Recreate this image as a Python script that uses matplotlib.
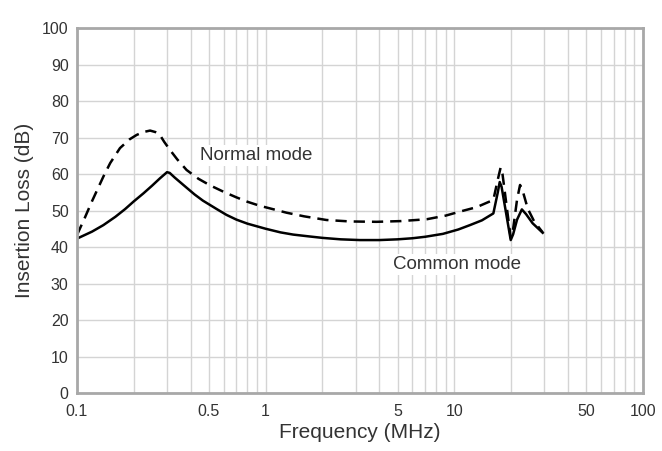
import matplotlib
matplotlib.use("Agg")
import matplotlib.pyplot as plt
from matplotlib.ticker import FixedLocator, FixedFormatter, LogLocator, NullFormatter

# ================================
# Data
# ================================

common_freq = [0.1, 0.12, 0.138, 0.16, 0.18, 0.2, 0.225, 0.25, 0.275, 0.3,
               0.31, 0.33, 0.38, 0.42, 0.465, 0.55, 0.62, 0.7, 0.8, 1.0,
               1.2, 1.4, 1.7, 2.0, 2.5, 3.16, 4.0, 5.0, 6.0, 7.0, 8.7, 10.5,
               12.1, 14.0, 16.1, 17.0, 17.4, 17.8, 19.9, 20.5, 21.5, 22.8,
               24.0, 26.0, 29.4]
common_loss = [42.3, 44.2, 46.0, 48.3, 50.4, 52.5, 54.7, 56.8, 58.8, 60.5,
               60.3, 59.0, 56.3, 54.4, 52.7, 50.4, 48.8, 47.5, 46.4, 45.0,
               44.0, 43.4, 42.9, 42.5, 42.1, 41.9, 41.9, 42.1, 42.4, 42.8, 43.6, 44.8,
               46.0, 47.3, 49.2, 55.0, 57.8, 56.5, 41.9, 43.5, 47.5, 50.3,
               49.0, 46.5, 43.9]

normal_freq = [0.1, 0.11, 0.12, 0.138, 0.15, 0.169, 0.19, 0.207, 0.225, 0.244,
               0.26, 0.275, 0.29, 0.311, 0.34, 0.381, 0.44, 0.507, 0.6, 0.7,
               0.8, 0.93, 1.05, 1.29, 1.6, 2.1, 2.8, 3.87, 5.2, 7.13, 9.0,
               10.7, 13.1, 16.1, 17.0, 17.6, 18.0, 19.9, 20.5, 21.5, 22.3,
               23.0, 24.5, 26.5, 29.4]
normal_loss = [43.3, 48.0, 52.5, 59.3, 63.0, 67.1, 69.5, 70.7, 71.5, 71.9,
               71.5, 70.7, 68.8, 66.6, 64.0, 61.1, 58.7, 56.9, 55.1, 53.6,
               52.4, 51.3, 50.6, 49.4, 48.4, 47.4, 47.0, 46.9, 47.1, 47.6, 48.6,
               49.7, 50.9, 52.9, 58.5, 61.8, 60.0, 42.5, 45.0, 53.0, 57.0,
               55.5, 50.5, 47.0, 44.0]

x_ticks = [0.1, 0.5, 1, 5, 10, 50, 100]
x_tick_labels = ["0.1", "0.5", "1", "5", "10", "50", "100"]
y_ticks = list(range(0, 101, 10))

# ================================
# Plot
# ================================

plt.rcParams["font.family"] = ["Liberation Sans", "DejaVu Sans"]
text_color = "#333333"

fig = plt.figure(figsize=(6.62, 4.51), dpi=100)
ax = fig.add_axes([0.1163, 0.1286, 0.855, 0.8093])

ax.plot(common_freq, common_loss, color="black", lw=1.8, solid_joinstyle="round")
ax.plot(normal_freq, normal_loss, color="black", lw=1.8, linestyle=(0, (4.5, 2.8)))

ax.set_xscale("log")
ax.set_xlim(0.1, 100)
ax.set_ylim(0, 100)

ax.xaxis.set_major_locator(FixedLocator(x_ticks))
ax.xaxis.set_major_formatter(FixedFormatter(x_tick_labels))
ax.xaxis.set_minor_locator(LogLocator(base=10, subs=range(2, 10)))
ax.xaxis.set_minor_formatter(NullFormatter())
ax.set_yticks(y_ticks)

ax.grid(True, which="both", axis="x", color="#d4d4d4", lw=1)
ax.grid(True, which="major", axis="y", color="#d4d4d4", lw=1)
ax.set_axisbelow(True)

ax.tick_params(which="both", length=0, labelsize=11.5, colors=text_color)
ax.tick_params(axis="x", pad=8)
ax.tick_params(axis="y", pad=6)
for spine in ax.spines.values():
    spine.set_color("#a8a8a8")
    spine.set_linewidth(2)

ax.set_xlabel("Frequency (MHz)", fontsize=15, color=text_color, labelpad=3)
ax.set_ylabel("Insertion Loss (dB)", fontsize=15, color=text_color, labelpad=6)

box = dict(facecolor="white", edgecolor="none", pad=1.5)
ax.text(0.45, 65, "Normal mode", fontsize=13.5, color=text_color,
        ha="left", va="center", bbox=box)
ax.text(4.75, 35.1, "Common mode", fontsize=13.5, color=text_color,
        ha="left", va="center", bbox=box)

fig.savefig("out.png", dpi=100)
